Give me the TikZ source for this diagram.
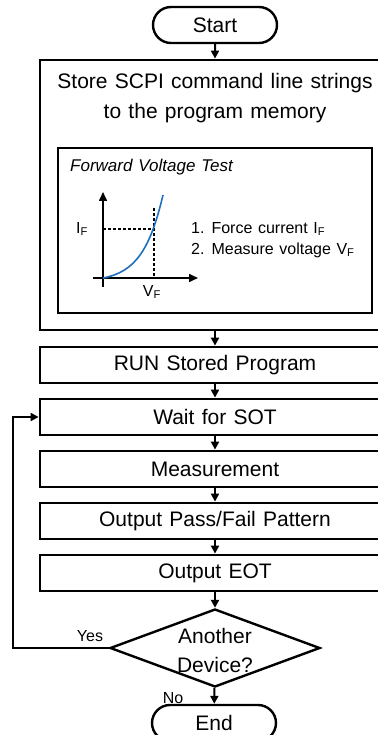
\documentclass[tikz,border=0pt]{standalone}
\usepackage{fontspec}
\setmainfont{Liberation Sans}[WordSpace={1.25,1,1}]
\usetikzlibrary{shapes.geometric,shapes.misc,arrows.meta}
\begin{document}
\begin{tikzpicture}[x=1pt,y=-1pt,
  every node/.style={inner sep=0pt},
  term/.style={draw,line width=2.4pt,rounded rectangle,minimum width=124pt,minimum height=36pt,font=\fontsize{21}{24}\selectfont},
  procbox/.style={draw,line width=2.8pt,minimum width=350pt,minimum height=36pt,font=\fontsize{21}{24}\selectfont},
  lbl/.style={font=\fontsize{21}{24}\selectfont},
  small/.style={font=\fontsize{16}{19}\selectfont},
  flow/.style={line width=2pt,-{Triangle[length=8pt,width=8pt]}},
  axis/.style={line width=1.6pt,-{Triangle[length=9pt,width=8pt]}},
  guide/.style={line width=1.4pt,densely dashed}
]
\useasboundingbox (0,0) rectangle (377,735);
\definecolor{curveblue}{RGB}{30,110,190}
% nodes
\node[term] (start) at (215,25) {Start};
\node[procbox,minimum height=270pt] (store) at (215,195) {};
\node[lbl] (st1) at (215,83) {Store SCPI command line strings};
\node[lbl] (st2) at (215,113) {to the program memory};
\node[draw,line width=1.9pt,minimum width=314pt,minimum height=165pt] (inner) at (215,230.5) {};
\node[anchor=west,font=\fontsize{17}{20}\selectfont\itshape] (fvt) at (70,167) {Forward Voltage Test};
% graph
\coordinate (o) at (103,278);
\coordinate (ytop) at (103,192);
\coordinate (xend) at (198,278);
\draw[axis] (103,287) -- (ytop);
\draw[axis] (93,278) -- (xend);
\draw[guide] (103,229) -- (154,229);
\draw[guide] (154,208) -- (154,278);
\draw[curveblue,line width=1.6pt] (o) .. controls (135,272) and (150,250) .. (163,195);
\node[small] (if) at (82,229) {I\textsubscript{F}};
\node[small] (vf) at (152,292) {V\textsubscript{F}};
\node[small,anchor=west] (s1) at (191,229) {1. Force current I\textsubscript{F}};
\node[small,anchor=west] (s2) at (191,250) {2. Measure voltage V\textsubscript{F}};
% process boxes
\node[procbox] (run) at (215,365) {RUN Stored Program};
\node[procbox] (wait) at (215,417) {Wait for SOT};
\node[procbox] (meas) at (215,469) {Measurement};
\node[procbox] (pass) at (215,521) {Output Pass/Fail Pattern};
\node[procbox] (eot) at (215,573) {Output EOT};
\node[draw,line width=2.4pt,diamond,minimum width=210pt,minimum height=78pt] (dec) at (215,648) {};
\node[lbl] (d1) at (215,636) {Another};
\node[lbl] (d2) at (215,665) {Device?};
\node[term] (end) at (214,723) {End};
\coordinate (loopc) at (13,648);
% connectors
\draw[flow] (start) -- (store);
\draw[flow] (store) -- (run);
\draw[flow] (run) -- (wait);
\draw[flow] (wait) -- (meas);
\draw[flow] (meas) -- (pass);
\draw[flow] (pass) -- (eot);
\draw[flow] (eot) -- (dec);
\draw[flow] (dec) -- (end);
\draw[flow] (dec.west) -- (loopc) |- (wait.west);
\node[small] (yes) at (90,636) {Yes};
\node[small] (no) at (173,698) {No};
\end{tikzpicture}
\end{document}
